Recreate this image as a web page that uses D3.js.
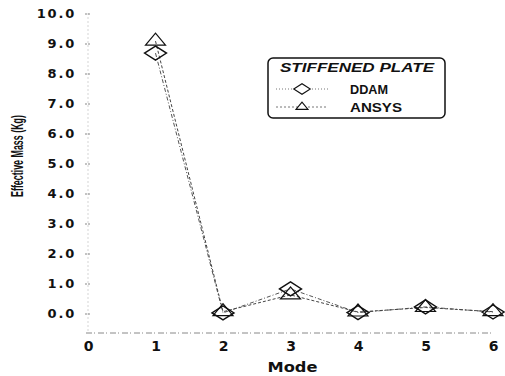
<!DOCTYPE html>
<html>
<head>
<meta charset="utf-8">
<script src="https://cdn.jsdelivr.net/npm/d3@7"></script>
<style>
  html, body { margin: 0; padding: 0; background: #fff; }
  svg { display: block; }
</style>
</head>
<body>
<svg id="chart" width="505" height="376"></svg>
<script>
// Effective mass per mode for the stiffened plate
const modes = [1, 2, 3, 4, 5, 6];
const ddam = [8.68, 0.02, 0.82, 0.03, 0.22, 0.05];
const ansys = [9.08, 0.06, 0.62, 0.05, 0.2, 0.06];
const yTicks = [0, 1, 2, 3, 4, 5, 6, 7, 8, 9, 10];
const xTicks = [0, 1, 2, 3, 4, 5, 6];
const seriesNames = ["DDAM", "ANSYS"];

const svg = d3.select("#chart");
const x = d3.scaleLinear().domain([0, 6]).range([88, 493]);
const y = d3.scaleLinear().domain([0, 10]).range([313.5, 13.5]);
const axisY = 333;

const numFont = "'DejaVu Sans', Arial, sans-serif";

// Axis lines (dotted, gray)
svg.append("line")
  .attr("x1", x(0)).attr("x2", x(0))
  .attr("y1", y(10)).attr("y2", axisY)
  .attr("stroke", "#aaa").attr("stroke-width", 1)
  .attr("stroke-dasharray", "1,3");
svg.append("line")
  .attr("x1", x(0) - 2).attr("x2", x(6) - 2)
  .attr("y1", axisY).attr("y2", axisY)
  .attr("stroke", "#888").attr("stroke-width", 1)
  .attr("stroke-dasharray", "6,2,1,3");

// Y axis ticks and labels
const yAxis = d3.axisLeft(y).tickValues(yTicks).tickSize(6).tickPadding(8)
  .tickFormat(d3.format(".1f"));
const gy = svg.append("g").attr("transform", `translate(${x(0) + 2},0)`).call(yAxis);
gy.select(".domain").remove();
gy.selectAll(".tick line").attr("stroke", "#888").attr("stroke-dasharray", "2,1");
gy.selectAll(".tick text")
  .attr("font-family", numFont).attr("font-weight", "bold")
  .attr("font-size", 13).attr("letter-spacing", 1.8).attr("fill", "#111");

// X axis labels
const xAxis = d3.axisBottom(x).tickValues(xTicks).tickSize(0).tickPadding(8)
  .tickFormat(d3.format("d"));
const gx = svg.append("g").attr("transform", `translate(0,${axisY})`).call(xAxis);
gx.select(".domain").remove();
gx.selectAll(".tick text")
  .attr("font-family", numFont).attr("font-weight", "bold")
  .attr("font-size", 14).attr("fill", "#111");

// Axis titles
svg.append("text")
  .attr("x", x(3) + 2).attr("y", 372)
  .attr("text-anchor", "middle")
  .attr("font-family", numFont).attr("font-weight", "bold")
  .attr("font-size", 14).attr("fill", "#111")
  .attr("textLength", 50).attr("lengthAdjust", "spacingAndGlyphs")
  .text("Mode");
svg.append("text")
  .attr("transform", "translate(23,156) rotate(-90)")
  .attr("text-anchor", "middle")
  .attr("font-family", "'Liberation Sans', Arial, sans-serif")
  .attr("font-weight", "bold").attr("font-size", 17).attr("fill", "#111")
  .attr("textLength", 82).attr("lengthAdjust", "spacingAndGlyphs")
  .text("Effective Mass (Kg)");

// Series lines
const line = d3.line().x((d, i) => x(modes[i])).y(d => y(d));
svg.append("path").datum(ddam).attr("d", line)
  .attr("fill", "none").attr("stroke", "#555").attr("stroke-width", 1)
  .attr("stroke-dasharray", "4,2,1,2");
svg.append("path").datum(ansys).attr("d", line)
  .attr("fill", "none").attr("stroke", "#444").attr("stroke-width", 1)
  .attr("stroke-dasharray", "3,2");

// Markers
const diamond = (s) => (cx, cy) =>
  `M${cx - 11 * s},${cy} L${cx},${cy - 7 * s} L${cx + 11 * s},${cy} L${cx},${cy + 7 * s} Z`;
const triangle = (s) => (cx, cy) =>
  `M${cx - 10 * s},${cy + 4 * s} L${cx},${cy - 8 * s} L${cx + 10 * s},${cy + 4 * s} Z`;

svg.append("g").selectAll("path").data(ddam).join("path")
  .attr("d", (d, i) => diamond(1)(x(modes[i]), y(d)))
  .attr("fill", "none").attr("stroke", "#111").attr("stroke-width", 1.4);
svg.append("g").selectAll("path").data(ansys).join("path")
  .attr("d", (d, i) => triangle(1)(x(modes[i]), y(d)))
  .attr("fill", "none").attr("stroke", "#111").attr("stroke-width", 1.2);

// Legend
const lg = svg.append("g");
lg.append("rect")
  .attr("x", 268).attr("y", 58).attr("width", 177).attr("height", 60)
  .attr("rx", 5).attr("fill", "#fff").attr("stroke", "#111").attr("stroke-width", 1.5);
lg.append("text")
  .attr("x", 357).attr("y", 72).attr("text-anchor", "middle")
  .attr("font-family", "'Liberation Sans', Arial, sans-serif")
  .attr("font-weight", "bold").attr("font-style", "italic")
  .attr("font-size", 13).attr("fill", "#111")
  .attr("textLength", 154).attr("lengthAdjust", "spacingAndGlyphs")
  .text("STIFFENED PLATE");
const legendRows = [{ name: seriesNames[0], y: 89, dash: "1,2", mark: diamond(0.75), len: 38 },
                    { name: seriesNames[1], y: 107, dash: "2,2", mark: triangle(0.6), len: 52 }];
legendRows.forEach(r => {
  lg.append("line").attr("x1", 276).attr("x2", 328).attr("y1", r.y).attr("y2", r.y)
    .attr("stroke", "#777").attr("stroke-width", 1).attr("stroke-dasharray", r.dash);
  lg.append("path").attr("d", r.mark(302, r.y))
    .attr("fill", "#fff").attr("stroke", "#111").attr("stroke-width", 1.1);
  lg.append("text").attr("x", 350).attr("y", r.y + 4.5)
    .attr("font-family", "'Liberation Sans', Arial, sans-serif")
    .attr("font-weight", "bold").attr("font-size", 12).attr("fill", "#111")
    .attr("textLength", r.len).attr("lengthAdjust", "spacingAndGlyphs")
    .text(r.name);
});
</script>
</body>
</html>
